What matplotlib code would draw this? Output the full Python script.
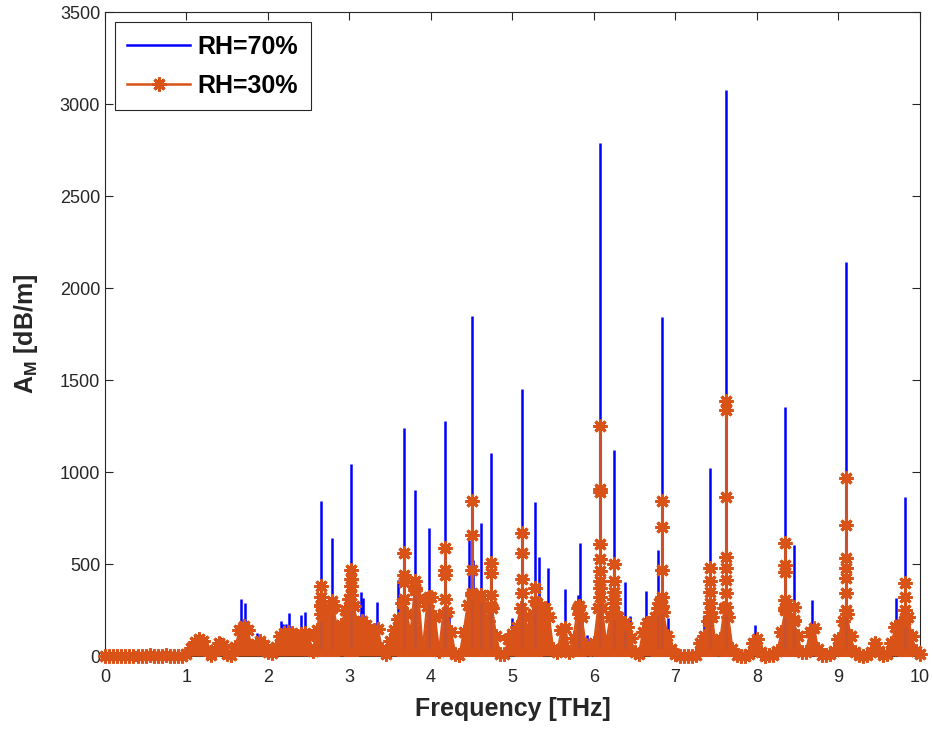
import numpy as np
import matplotlib.pyplot as plt
from matplotlib.lines import Line2D

# ==========================================
# Data
# ==========================================
# RH=70%: absorption lines (frequency THz, peak dB/m)
blue_freq = [0.55, 0.75, 0.98, 1.10, 1.16, 1.41, 1.67, 1.72, 1.87, 1.92, 2.04,
             2.16, 2.19, 2.22, 2.26, 2.40, 2.46, 2.65, 2.78, 2.93, 3.02, 3.14,
             3.17, 3.34, 3.60, 3.665, 3.81, 3.98, 4.17, 4.22, 4.47, 4.50, 4.52,
             4.61, 4.74, 5.00, 5.12, 5.20, 5.28, 5.33, 5.44, 5.64, 5.80, 5.83,
             5.92, 6.08, 6.25, 6.38, 6.44, 6.64, 6.71, 6.78, 6.83, 6.91, 7.35,
             7.43, 7.62, 7.98, 8.34, 8.46, 8.68, 9.05, 9.09, 9.45, 9.71, 9.82]
blue_peak = [20, 15, 30, 109, 130, 105, 310, 286, 127, 91, 60,
             192, 172, 174, 232, 223, 241, 845, 640, 192, 1043, 350,
             317, 295, 413, 1237, 902, 694, 1279, 233, 630, 1850, 520,
             725, 1105, 206, 1450, 190, 839, 540, 478, 362, 331, 612,
             114, 2790, 1120, 404, 217, 355, 241, 576, 1845, 205, 223,
             1020, 3075, 168, 1355, 603, 304, 223, 2140, 90, 313, 866]

# RH=30%: envelope of the dense low part, sampled every 0.05 THz
orange_grid = np.arange(0, 10.001, 0.05)
orange_env = [0, 0, 0, 0, 0, 0, 0, 0, 0, 0,          # 0.00-0.45
              0, 5, 0, 0, 0, 5, 0, 0, 0, 0,          # 0.50-0.95
              10, 45, 75, 90, 80, 35, 5, 35, 70, 60,  # 1.00-1.45
              10, 5, 50, 140, 165, 140, 55, 65, 80, 60,  # 1.50-1.95
              20, 15, 50, 110, 125, 130, 125, 110, 120, 125,  # 2.00-2.45
              110, 30, 140, 270, 210, 260, 280, 140, 170, 250,  # 2.50-2.95
              310, 270, 180, 190, 170, 100, 140, 145, 40, 10,  # 3.00-3.45
              80, 140, 200, 290, 230, 130, 360, 310, 40, 270,  # 3.50-3.95
              320, 210, 30, 230, 240, 130, 10, 5, 130, 280,  # 4.00-4.45
              330, 320, 310, 260, 190, 260, 110, 10, 10, 90,  # 4.50-4.95
              120, 160, 260, 210, 140, 230, 290, 230, 260, 210,  # 5.00-5.45
              40, 20, 140, 150, 20, 100, 260, 210, 60, 40,  # 5.50-5.95
              70, 260, 260, 70, 210, 310, 210, 150, 160, 100,  # 6.00-6.45
              20, 10, 130, 180, 160, 210, 290, 240, 110, 40,  # 6.50-6.95
              10, 0, 0, 0, 0, 5, 70, 110, 190, 210,  # 7.00-7.45
              40, 90, 260, 210, 40, 5, 0, 0, 10, 70,  # 7.50-7.95
              95, 20, 0, 5, 5, 25, 130, 260, 210, 190,  # 8.00-8.45
              110, 20, 20, 130, 155, 40, 5, 5, 10, 25,  # 8.50-8.95
              90, 190, 230, 110, 20, 5, 0, 5, 20, 70,  # 9.00-9.45
              30, 5, 10, 70, 160, 170, 190, 210, 110, 30,  # 9.50-9.95
              10]  # 10.00

# RH=30%: strong lines, with the heights where markers sit along each line
orange_freq = [2.65, 2.78, 3.02, 3.67, 3.81, 3.98, 4.17, 4.50, 4.62, 4.74,
               5.12, 5.28, 5.82, 6.08, 6.25, 6.38, 6.78, 6.83, 7.43, 7.62,
               8.34, 8.46, 9.09, 9.82]
orange_marks = [[380, 320, 280, 230],
                [300, 260],
                [470, 420, 380, 330, 290],
                [560, 440, 400, 310],
                [410, 370],
                [320],
                [585, 470, 440, 310],
                [840, 660, 470, 340],
                [330],
                [505, 450, 330, 270],
                [670, 560, 420, 340],
                [370, 300],
                [270, 230],
                [1250, 910, 890, 610, 530, 460, 410, 370, 320],
                [500, 410, 350, 290, 240],
                [180],
                [260],
                [840, 700, 470, 320, 270],
                [477, 410, 350, 290, 240],
                [1388, 1337, 862, 540, 477, 413, 341, 268],
                [616, 495, 458, 304, 250],
                [266, 196],
                [966, 712, 531, 477, 422, 341, 250],
                [395, 322, 250, 196]]

# ==========================================
# Plot
# ==========================================
plt.rcParams['font.family'] = ['Liberation Sans', 'DejaVu Sans']
plt.rcParams['mathtext.fontset'] = 'custom'
plt.rcParams['mathtext.rm'] = 'Liberation Sans'
plt.rcParams['mathtext.bf'] = 'Liberation Sans:bold'

blue = '#0000FF'
orange = '#D95319'
star = (8, 2, 0)

fig = plt.figure(figsize=(9.33, 7.29), dpi=100)
ax = fig.add_axes([0.1125, 0.1001, 0.8735, 0.8834])

ax.vlines(blue_freq, 0, blue_peak, color=blue, lw=1.8, zorder=2)

ax.fill_between(orange_grid, 0, orange_env, color=orange, lw=0, zorder=3)
ax.plot(orange_grid, orange_env, color=orange, lw=1.5, marker=star, ms=10,
        mew=2.2, clip_on=False, zorder=4)

for f, hs in zip(orange_freq, orange_marks):
    ax.plot([f] * (len(hs) + 1), [0] + hs, color='#C8502A', lw=2.2,
            marker=star, ms=10, mew=2.2, mec=orange, zorder=5)

ax.set_xlim(0, 10)
ax.set_ylim(0, 3500)
ax.set_xticks(np.arange(0, 11, 1))
ax.set_yticks(np.arange(0, 3501, 500))
ax.tick_params(direction='in', top=True, right=True, length=6,
               labelsize=13, colors='#262626', width=0.8)
ax.tick_params(axis='x', pad=9)
for sp in ax.spines.values():
    sp.set_color('#262626')
    sp.set_linewidth(0.8)

ax.set_xlabel('Frequency [THz]', fontsize=18, fontweight='bold',
              color='#262626', labelpad=8)
ax.set_ylabel(r'$\mathbf{A_M}$ [dB/m]', fontsize=18, fontweight='bold',
              color='#262626', labelpad=14)

handles = [Line2D([], [], color=blue, lw=1.8),
           Line2D([], [], color=orange, lw=1.8, marker=star, ms=10, mew=2.2)]
leg = ax.legend(handles, ['RH=70%', 'RH=30%'], loc='upper left',
                prop={'size': 18, 'weight': 'bold'}, fancybox=False,
                edgecolor='#262626', framealpha=1, handlelength=2.5,
                borderaxespad=0.4, borderpad=0.5, labelspacing=0.6,
                handletextpad=0.3)
leg.get_frame().set_linewidth(0.8)

fig.savefig('out.png', dpi=100)
